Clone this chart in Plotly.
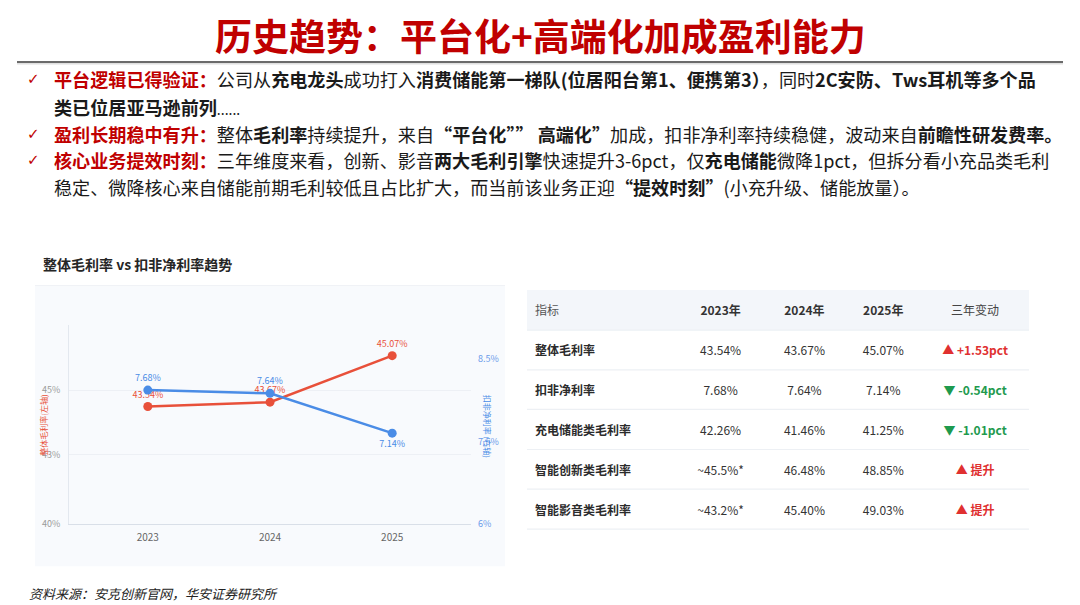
import plotly.graph_objects as go

# ---------------- data ----------------
years = ["2023", "2024", "2025"]
gross_margin = [43.54, 43.67, 45.07]        # 整体毛利率 (%)
net_margin = [7.68, 7.64, 7.14]             # 扣非净利率 (%)
gross_labels = ["43.54%", "43.67%", "45.07%"]
net_labels = ["7.68%", "7.64%", "7.14%"]
left_tick_text = ["40%", "43%", "45%"]
right_tick_text = ["6%", "7.5%", "8.5%"]

table_header = ["指标", "2023年", "2024年", "2025年", "三年变动"]
metrics = ["整体毛利率", "扣非净利率", "充电储能类毛利率", "智能创新类毛利率", "智能影音类毛利率"]
col_2023 = ["43.54%", "7.68%", "42.26%", "~45.5%*", "~43.2%*"]
col_2024 = ["43.67%", "7.64%", "41.46%", "46.48%", "45.40%"]
col_2025 = ["45.07%", "7.14%", "41.25%", "48.85%", "49.03%"]
change = ["▲ +1.53pct", "▼ -0.54pct", "▼ -1.01pct", "▲ 提升", "▲ 提升"]
change_dir = ["up", "down", "down", "up", "up"]

title_text = "历史趋势：平台化+高端化加成盈利能力"
chart_title = "整体毛利率 vs 扣非净利率趋势"
source_text = "资料来源：安克创新官网，华安证券研究所"

# ---------------- style ----------------
W, H = 1080, 605
FONT = "Noto Sans CJK SC"
RED = "#C00000"
LINE_RED = "#E8503A"
LINE_BLUE = "#4A8CE6"
UP_RED = "#E03030"
DOWN_GREEN = "#1E9A4E"


def px(x):
    return x / W


def py(y):
    return 1 - y / H


fig = go.Figure()

# ---------------- line chart ----------------
fig.add_trace(go.Scatter(
    x=years, y=gross_margin, mode="lines+markers+text", name="整体毛利率",
    line=dict(color=LINE_RED, width=2.5),
    marker=dict(size=9, color=LINE_RED),
    text=gross_labels, textposition="top center",
    textfont=dict(size=9, color=LINE_RED, family=FONT),
    yaxis="y", cliponaxis=False, showlegend=False, hoverinfo="skip",
))
fig.add_trace(go.Scatter(
    x=years, y=net_margin, mode="lines+markers+text", name="扣非净利率",
    line=dict(color=LINE_BLUE, width=2.5),
    marker=dict(size=9, color=LINE_BLUE),
    text=net_labels, textposition=["top center", "top center", "bottom center"],
    textfont=dict(size=9, color=LINE_BLUE, family=FONT),
    yaxis="y2", cliponaxis=False, showlegend=False, hoverinfo="skip",
))

# ---------------- table ----------------
def change_color(d):
    return UP_RED if d == "up" else DOWN_GREEN

S = lambda s: "<span>%s</span>" % s
Bt = lambda s: "<b>%s</b>" % s
n = len(metrics)
cell_colors = [
    ["#2b2b2b"] * n,
    ["#333333"] * n,
    ["#333333"] * n,
    ["#333333"] * n,
    [change_color(d) for d in change_dir],
]
fig.add_trace(go.Table(
    domain=dict(x=[px(527), px(1029)], y=[py(538.5), py(295.5)]),
    columnwidth=[150, 88, 80, 78, 106],
    header=dict(
        values=[S(table_header[0])] + [Bt(h) for h in table_header[1:4]] + [S(table_header[4])],
        fill_color="rgba(0,0,0,0)", line_color="rgba(0,0,0,0)", height=40,
        align=["left", "center", "center", "center", "center"],
        font=dict(family=FONT, size=12, color=["#555555", "#333333", "#333333", "#333333", "#444444"]),
    ),
    cells=dict(
        values=[[Bt(m) for m in metrics], [S(v) for v in col_2023], [S(v) for v in col_2024],
                [S(v) for v in col_2025], [Bt(c) for c in change]],
        fill_color="rgba(0,0,0,0)", line_color="rgba(0,0,0,0)", height=40,
        align=["left", "center", "center", "center", "center"],
        font=dict(family=FONT, size=12, color=cell_colors),
    ),
))

shapes = []
# title underline
shapes.append(dict(type="line", xref="paper", yref="paper", x0=px(17), x1=px(1063),
                   y0=py(62.5), y1=py(62.5), line=dict(color="#6b6b6b", width=2)))
shapes.append(dict(type="line", xref="paper", yref="paper", x0=px(17), x1=px(1063),
                   y0=py(64.5), y1=py(64.5), line=dict(color="#cfcfcf", width=1)))
# chart card
shapes.append(dict(type="rect", xref="paper", yref="paper", x0=px(35), x1=px(505),
                   y0=py(572), y1=py(289), fillcolor="#F8FAFD", line=dict(width=0), layer="below"))
shapes.append(dict(type="line", xref="paper", yref="paper", x0=px(35), x1=px(505),
                   y0=py(288.5), y1=py(288.5), line=dict(color="#EEF1F5", width=1), layer="below"))
# table header background
shapes.append(dict(type="rect", xref="paper", yref="paper", x0=px(527), x1=px(1029),
                   y0=py(333.5), y1=py(293), fillcolor="#F3F6FA", line=dict(width=0), layer="below"))
# table row separators
for yy in [333.5, 373.5, 413.5, 454, 494, 534.5]:
    shapes.append(dict(type="line", xref="paper", yref="paper", x0=px(527), x1=px(1029),
                       y0=py(yy), y1=py(yy), line=dict(color="#EDF0F4", width=1.2), layer="above"))

annotations = []
annotations.append(dict(text="<b>%s</b>" % title_text, x=0.5, y=py(35), xref="paper", yref="paper",
                        xanchor="center", yanchor="middle", showarrow=False,
                        font=dict(family=FONT, size=37, color=RED)))

B = lambda s: "<b>%s</b>" % s
R = lambda s: "<span style='color:%s'><b>%s</b></span>" % (RED, s)
DOTS = "<span style='font-size:14px'>......</span>"
bullet_lines = [
    (80, True, R("平台逻辑已得验证：") + "公司从" + B("充电龙头") + "成功打入" +
     B("消费储能第一梯队(位居阳台第1、便携第3）") + "，同时" + B("2C安防、Tws耳机等多个品")),
    (108, False, B("类已位居亚马逊前列") + DOTS),
    (135, True, R("盈利长期稳中有升：") + "整体" + B("毛利率") + "持续提升，来自" +
     B("“平台化”” 高端化”") + "加成，扣非净利率持续稳健，波动来自" + B("前瞻性研发费率。")),
    (162, True, R("核心业务提效时刻：") + "三年维度来看，创新、影音" + B("两大毛利引擎") +
     "快速提升3-6pct，仅" + B("充电储能") + "微降1pct，但拆分看小充品类毛利"),
    (188.5, False, "稳定、微降核心来自储能前期毛利较低且占比扩大，而当前该业务正迎" + B("“提效时刻”") +
     "(小充升级、储能放量）。"),
]
for y, check, txt in bullet_lines:
    if check:
        annotations.append(dict(text="✓", x=px(33), y=py(y), xref="paper", yref="paper",
                                xanchor="center", yanchor="middle", showarrow=False,
                                font=dict(family="DejaVu Sans", size=15, color=RED)))
    annotations.append(dict(text=txt, x=px(52), y=py(y), xref="paper", yref="paper",
                            xanchor="left", yanchor="middle", showarrow=False,
                            font=dict(family=FONT, size=18.1, color="#1a1a1a")))

annotations.append(dict(text="<b>%s</b>" % chart_title, x=px(41), y=py(267), xref="paper", yref="paper",
                        xanchor="left", yanchor="middle", showarrow=False,
                        font=dict(family=FONT, size=14, color="#262626")))
annotations.append(dict(text="整体毛利率(左轴)", x=px(44), y=py(430), xref="paper", yref="paper",
                        xanchor="center", yanchor="middle", showarrow=False, textangle=-90,
                        font=dict(family=FONT, size=8, color=LINE_RED)))
annotations.append(dict(text="扣非净利率 (右轴)", x=px(487), y=py(430), xref="paper", yref="paper",
                        xanchor="center", yanchor="middle", showarrow=False, textangle=90,
                        font=dict(family=FONT, size=8, color=LINE_BLUE)))
annotations.append(dict(text="<i>%s</i>" % source_text, x=px(27), y=py(599), xref="paper", yref="paper",
                        xanchor="left", yanchor="middle", showarrow=False,
                        font=dict(family=FONT, size=13, color="#222222")))

fig.update_layout(
    width=W, height=H, autosize=False,
    margin=dict(l=0, r=0, t=0, b=0),
    paper_bgcolor="#FFFFFF", plot_bgcolor="rgba(0,0,0,0)",
    font=dict(family=FONT),
    xaxis=dict(domain=[px(69), px(471)], type="category", range=[-0.645, 2.645],
               showgrid=False, zeroline=False, showline=True, linecolor="#D9DFE8", linewidth=1,
               ticks="", tickfont=dict(size=10, color="#666666"), ticklabelstandoff=4,
               fixedrange=True),
    yaxis=dict(domain=[py(529.3), py(328)], range=[40, 46.0],
               tickvals=[40, 42.09, 44.03], ticktext=left_tick_text,
               showgrid=True, gridcolor="#EDF0F5", gridwidth=1, zeroline=False,
               showline=True, linecolor="#E3E8EF", linewidth=1,
               ticks="", tickfont=dict(size=9, color="#9a9a9a"), ticklabelstandoff=6),
    yaxis2=dict(overlaying="y", side="right", range=[6, 8.5],
                tickvals=[6, 7.03, 8.07], ticktext=right_tick_text,
                showgrid=False, zeroline=False, showline=False,
                ticks="", tickfont=dict(size=9, color="#6A9BEA"), ticklabelstandoff=6),
    shapes=shapes,
    annotations=annotations,
)

fig.write_html("out.html", config={"displayModeBar": False},
               post_script="document.body.style.margin='0';")
